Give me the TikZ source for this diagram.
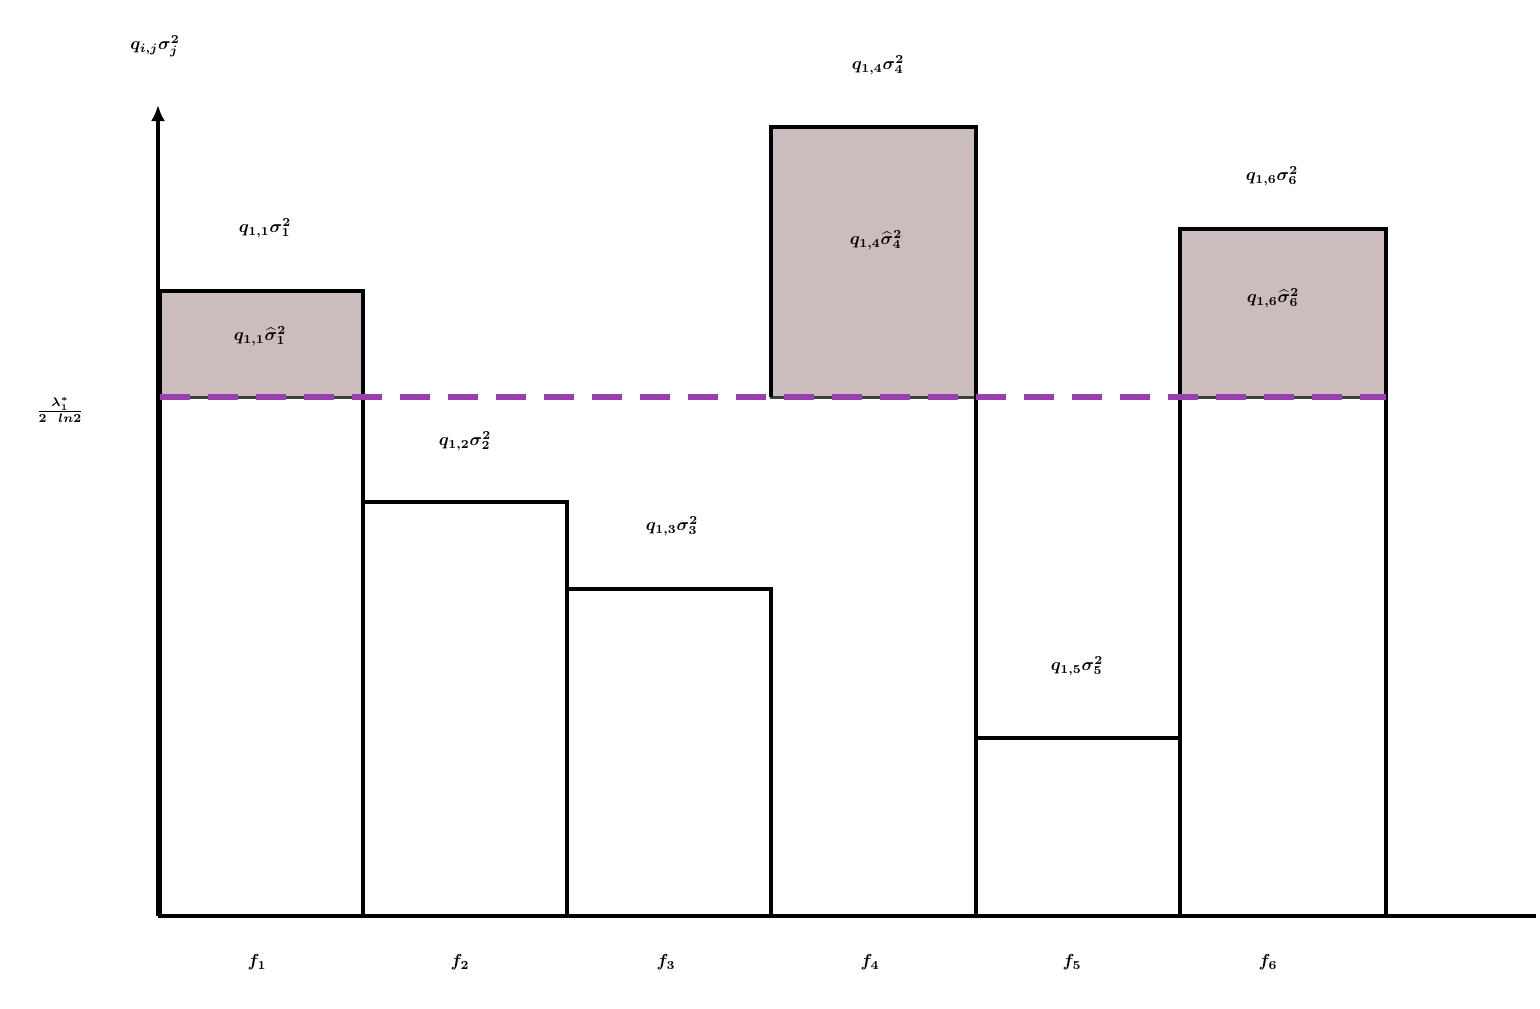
\documentclass[tikz,border=0pt]{standalone}
\usepackage{amsmath,bm}
\usetikzlibrary{arrows.meta}
\newcommand{\BL}[1]{\scalebox{1.75}{$\bm{#1}$}}
\begin{document}
\begin{tikzpicture}[x=1pt,y=-1pt,
 bar/.style={draw=black,line width=4pt},
 shade/.style={fill=shadeC,draw=black!75,line width=3pt},
 lab/.style={inner sep=0pt}]
\definecolor{shadeC}{HTML}{CBBDBD}
\definecolor{purp}{HTML}{9A3FB0}
\useasboundingbox (0,0) rectangle (1540,1009);
% shaded tops
\draw[shade] (160,291) rectangle (363,397);
\draw[shade] (771,127) rectangle (976,397);
\draw[shade] (1180,229) rectangle (1386,397);
% bars
\draw[bar] (160,915) -- (160,291) -- (363,291) -- (363,915);
\draw[bar] (363,502) -- (567,502) -- (567,915);
\draw[bar] (567,589) -- (771,589) -- (771,915);
\draw[bar] (771,397) -- (771,127) -- (976,127) -- (976,915);
\draw[bar] (976,738) -- (1180,738) -- (1180,915);
\draw[bar] (1180,915) -- (1180,229) -- (1386,229) -- (1386,915);
% dashed
\draw[purp,line width=6pt,dash pattern=on 30pt off 18pt] (160,397) -- (1386,397);
% axes
\coordinate (o) at (158,916);
\coordinate (yt) at (158,105);
\coordinate (xe) at (1536,916);
\draw[line width=4pt,-{Latex[length=16pt,width=14pt]}] (o) -- (yt);
\draw[line width=4.5pt] (o) -- (xe);
% labels
\node[lab] (ay) at (155,46) {\BL{q_{i,j}\sigma_j^2}};
\node[lab] (lam) at (60,410) {\BL{\frac{\lambda_1^*}{2\ \ ln2}}};
\node[lab] (a1) at (265,228) {\BL{q_{1,1}\sigma_1^2}};
\node[lab] (b1) at (260,336) {\BL{q_{1,1}\widehat{\sigma}_1^2}};
\node[lab] (a2) at (465,441) {\BL{q_{1,2}\sigma_2^2}};
\node[lab] (a3) at (672,526) {\BL{q_{1,3}\sigma_3^2}};
\node[lab] (a4) at (878,65) {\BL{q_{1,4}\sigma_4^2}};
\node[lab] (b4) at (876,240) {\BL{q_{1,4}\widehat{\sigma}_4^2}};
\node[lab] (a5) at (1077,666) {\BL{q_{1,5}\sigma_5^2}};
\node[lab] (a6) at (1272,176) {\BL{q_{1,6}\sigma_6^2}};
\node[lab] (b6) at (1273,298) {\BL{q_{1,6}\widehat{\sigma}_6^2}};
\foreach \x/\i in {257/1,460/2,666/3,870/4,1072/5,1268/6}
  \node[lab] (f\i) at (\x,962) {\BL{f_{\i}}};
\end{tikzpicture}
\end{document}
